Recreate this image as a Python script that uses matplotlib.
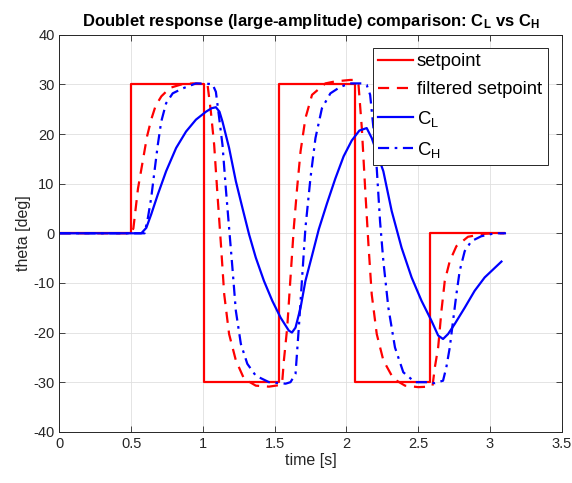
import numpy as np
import matplotlib
matplotlib.use('Agg')
import matplotlib.pyplot as plt

plt.rcParams['font.family'] = ['Liberation Sans', 'DejaVu Sans']
plt.rcParams['mathtext.fontset'] = 'custom'
plt.rcParams['mathtext.rm'] = 'Liberation Sans'
plt.rcParams['mathtext.bf'] = 'Liberation Sans:bold'
plt.rcParams['axes.unicode_minus'] = False

# setpoint (step doublet)
t_sp = [0, 0.5, 0.5, 1.005, 1.005, 1.53, 1.53, 2.06, 2.06, 2.58, 2.58, 3.1]
sp = [0, 0, 30, 30, -30, -30, 30, 30, -30, -30, 0, 0]

# filtered setpoint
t_filt = [0, 0.5, 0.515, 0.547, 0.577, 0.61, 0.64, 0.67, 0.71, 0.77, 0.85, 0.93, 1.005,
          1.032, 1.055, 1.078, 1.101, 1.125, 1.148, 1.182, 1.229, 1.286, 1.368, 1.46, 1.53,
          1.552, 1.564, 1.587, 1.61, 1.633, 1.656, 1.68, 1.714, 1.76, 1.853, 1.92, 2.026, 2.06,
          2.084, 2.107, 2.13, 2.153, 2.176, 2.211, 2.257, 2.327, 2.408, 2.5, 2.58,
          2.6, 2.616, 2.639, 2.662, 2.685, 2.72, 2.766, 2.847, 2.963, 3.05, 3.1]
filt = [0, 0, 1, 9, 14, 19.5, 23, 25.7, 27.6, 29.3, 30.0, 30.2, 30.1,
        29.9, 24.5, 17.8, 7.8, -2.2, -12.3, -20.3, -25.6, -29.3, -30.7, -30.9, -30.6,
        -30, -25.6, -19, -8.9, 1.1, 9.1, 16.5, 23.2, 27.9, 30.2, 30.6, 30.9, 30.9,
        29.9, 21.2, 9.1, -2.2, -12.3, -20.3, -25.6, -29.3, -30.7, -31, -30.9,
        -30.7, -27, -23, -15.6, -9.6, -5.6, -2.6, -0.7, -0.1, 0, 0]

# C_L response
t_cl = [0, 0.57, 0.605, 0.639, 0.685, 0.743, 0.813, 0.882, 0.951, 1.021, 1.06, 1.09,
        1.115, 1.136, 1.182, 1.229, 1.275, 1.321, 1.368, 1.425, 1.483, 1.541, 1.598, 1.62,
        1.645, 1.68, 1.714, 1.76, 1.807, 1.864, 1.922, 1.98, 2.037, 2.09, 2.141,
        2.176, 2.257, 2.315, 2.384, 2.454, 2.523, 2.592, 2.639, 2.673, 2.708, 2.754,
        2.824, 2.893, 2.963, 3.08]
cl = [0, 0, 1.1, 3.8, 7.8, 12.5, 17.2, 20.5, 22.9, 24.5, 25.2, 25.4,
      24.5, 22.5, 17.2, 10.5, 5.1, -0.2, -4.9, -9.6, -13.6, -17, -19.6, -20,
      -19, -15, -9.6, -4.5, 0.8, 6, 11, 15.5, 18.7, 20.7, 21.2,
      19.2, 12.5, 4.5, -2.9, -8.9, -13.6, -17.6, -20.6, -21.3, -20.3, -18.3,
      -15, -11.6, -8.9, -5.7]

# C_H response
t_ch = [0, 0.593, 0.616, 0.639, 0.662, 0.685, 0.709, 0.743, 0.789, 0.859, 0.951, 1.044,
        1.067, 1.09, 1.113, 1.136, 1.159, 1.182, 1.205, 1.229, 1.264, 1.309, 1.368, 1.46,
        1.576, 1.61, 1.645, 1.668, 1.691, 1.714, 1.749, 1.784, 1.829, 1.888, 1.957, 2.026,
        2.107, 2.141, 2.165, 2.188, 2.211, 2.234, 2.257, 2.292, 2.338, 2.396, 2.477, 2.569,
        2.616, 2.673, 2.696, 2.72, 2.743, 2.766, 2.789, 2.824, 2.87, 2.939, 3.032, 3.112]
ch = [0, 0, 3.1, 7.1, 12.5, 17.8, 22.5, 26.2, 28.2, 29.2, 30.2, 30.1,
      30, 28.5, 23.2, 17.8, 9.1, 1.1, -6.9, -15.6, -22.3, -26.3, -28.7, -30,
      -30.3, -30, -28.3, -19, -8.9, 1.1, 11.1, 19.2, 25.2, 28.2, 29.5, 30.2,
      30.2, 29.9, 27.9, 21.2, 13.1, 2.4, -5.6, -15, -23, -28, -30, -30,
      -30.2, -29.7, -27, -23, -17.6, -12.3, -7.6, -3.6, -1.6, -0.6, 0, 0]

fig = plt.figure(figsize=(5.72, 4.83), dpi=100)
ax = fig.add_axes([0.104, 0.106, 0.878, 0.822])

ax.plot(t_sp, sp, color='#ff0000', lw=1.6, label='setpoint')
ax.plot(t_filt, filt, color='#ff0000', lw=1.6, dashes=(5, 3.5), label='filtered setpoint')
ax.plot(t_cl, cl, color='#0000ff', lw=1.6, label='$\\mathregular{C_L}$')
ax.plot(t_ch, ch, color='#0000ff', lw=1.6, dashes=(5, 2.5, 1.2, 2.5), label='$\\mathregular{C_H}$')

ax.set_xlim(0, 3.5)
ax.set_ylim(-40, 40)
ax.set_xticks(np.arange(0, 3.51, 0.5))
ax.set_xticklabels(['0', '0.5', '1', '1.5', '2', '2.5', '3', '3.5'])
ax.set_yticks(np.arange(-40, 41, 10))
ax.grid(True, color='#dfdfdf', lw=0.6)
ax.set_axisbelow(True)
ax.tick_params(direction='in', top=True, right=True, length=4, width=0.6,
               labelsize=10.5, colors='#262626')
for s in ax.spines.values():
    s.set_color('#262626')
    s.set_linewidth(0.7)

ax.set_xlabel('time [s]', fontsize=11.5, color='#262626', labelpad=2)
ax.set_ylabel('theta [deg]', fontsize=11.5, color='#262626', labelpad=2)
ax.set_title('Doublet response (large-amplitude) comparison: $\\mathbf{C_L}$ vs $\\mathbf{C_H}$',
             fontsize=12, fontweight='bold', pad=6)

leg = ax.legend(loc='upper right', bbox_to_anchor=(0.972, 0.967), borderaxespad=0,
                fancybox=False, framealpha=1, edgecolor='#262626', fontsize=13.3,
                handlelength=1.9, handletextpad=0.2, labelspacing=0.58, borderpad=0.3)
leg.get_frame().set_linewidth(0.7)

fig.savefig('out.png', dpi=100)
